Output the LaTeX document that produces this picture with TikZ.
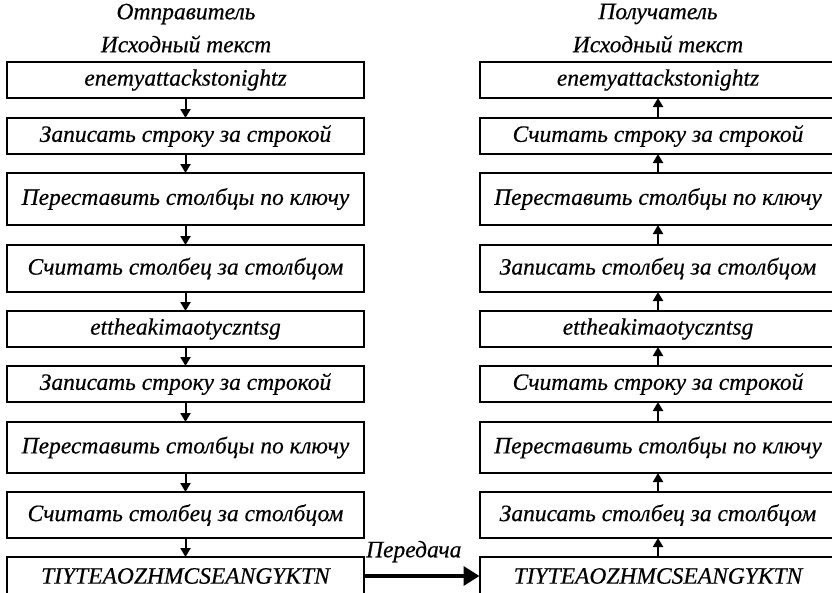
\documentclass[tikz,border=0pt]{standalone}
\usepackage{fontspec}
\newfontfamily\labelfont{LiberationSerif-Italic.ttf}[
  BoldFont=LiberationSerif-Italic.ttf,
  BoldFeatures={FakeBold=0.4}]
\usetikzlibrary{arrows.meta}
\begin{document}
\begin{tikzpicture}[x=1pt,y=-1pt,
  every node/.style={font=\labelfont\bfseries\fontsize{23.5}{28}\selectfont},
  box/.style={draw=black,line width=2pt,minimum width=357pt,inner sep=0pt,outer sep=0pt,align=center},
  title/.style={inner sep=0pt},
  link/.style={line width=2pt,-{Triangle[width=10pt,length=9pt]}},
  send/.style={line width=3.5pt,-{Triangle[width=19pt,length=16pt]}}]
\useasboundingbox (0,0) rectangle (832,592);

% headings
\node[title] (lt1) at (186,14) {Отправитель};
\node[title] (lt2) at (186,44) {Исходный текст};
\node[title] (rt1) at (658,14) {Получатель};
\node[title] (rt2) at (658,44) {Исходный текст};

% sender column
\node[box,minimum height=36pt] (l1) at (185.5,80)  {enemyattackstonightz};
\node[box,minimum height=36pt] (l2) at (185.5,136) {Записать строку за строкой};
\node[box,minimum height=52pt] (l3) at (185.5,199) {Переставить столбцы по ключу};
\node[box,minimum height=47pt] (l4) at (185.5,268.5) {Считать столбец за столбцом};
\node[box,minimum height=36pt] (l5) at (185.5,329) {ettheakimaotyczntsg};
\node[box,minimum height=36pt] (l6) at (185.5,384) {Записать строку за строкой};
\node[box,minimum height=51pt] (l7) at (185.5,447.5) {Переставить столбцы по ключу};
\node[box,minimum height=46pt] (l8) at (185.5,515) {Считать столбец за столбцом};
\node[box,minimum height=38pt] (l9) at (185.5,576) {TIYTEAOZHMCSEANGYKTN};

% receiver column
\node[box,minimum height=36pt] (r1) at (658,80)  {enemyattackstonightz};
\node[box,minimum height=36pt] (r2) at (658,136) {Считать строку за строкой};
\node[box,minimum height=52pt] (r3) at (658,199) {Переставить столбцы по ключу};
\node[box,minimum height=47pt] (r4) at (658,268.5) {Записать столбец за столбцом};
\node[box,minimum height=36pt] (r5) at (658,329) {ettheakimaotyczntsg};
\node[box,minimum height=36pt] (r6) at (658,384) {Считать строку за строкой};
\node[box,minimum height=51pt] (r7) at (658,447.5) {Переставить столбцы по ключу};
\node[box,minimum height=46pt] (r8) at (658,515) {Записать столбец за столбцом};
\node[box,minimum height=38pt] (r9) at (658,576) {TIYTEAOZHMCSEANGYKTN};

% flow downwards on the sender side
\foreach \a/\b in {l1/l2,l2/l3,l3/l4,l4/l5,l5/l6,l6/l7,l7/l8,l8/l9}
  \draw[link] (\a) -- (\b);

% flow upwards on the receiver side
\foreach \a/\b in {r9/r8,r8/r7,r7/r6,r6/r5,r5/r4,r4/r3,r3/r2,r2/r1}
  \draw[link] (\a) -- (\b);

% transmission
\draw[send] (l9) -- node[above=12pt,xshift=-8pt,inner sep=0pt] (tx) {Передача} (r9);
\end{tikzpicture}
\end{document}
